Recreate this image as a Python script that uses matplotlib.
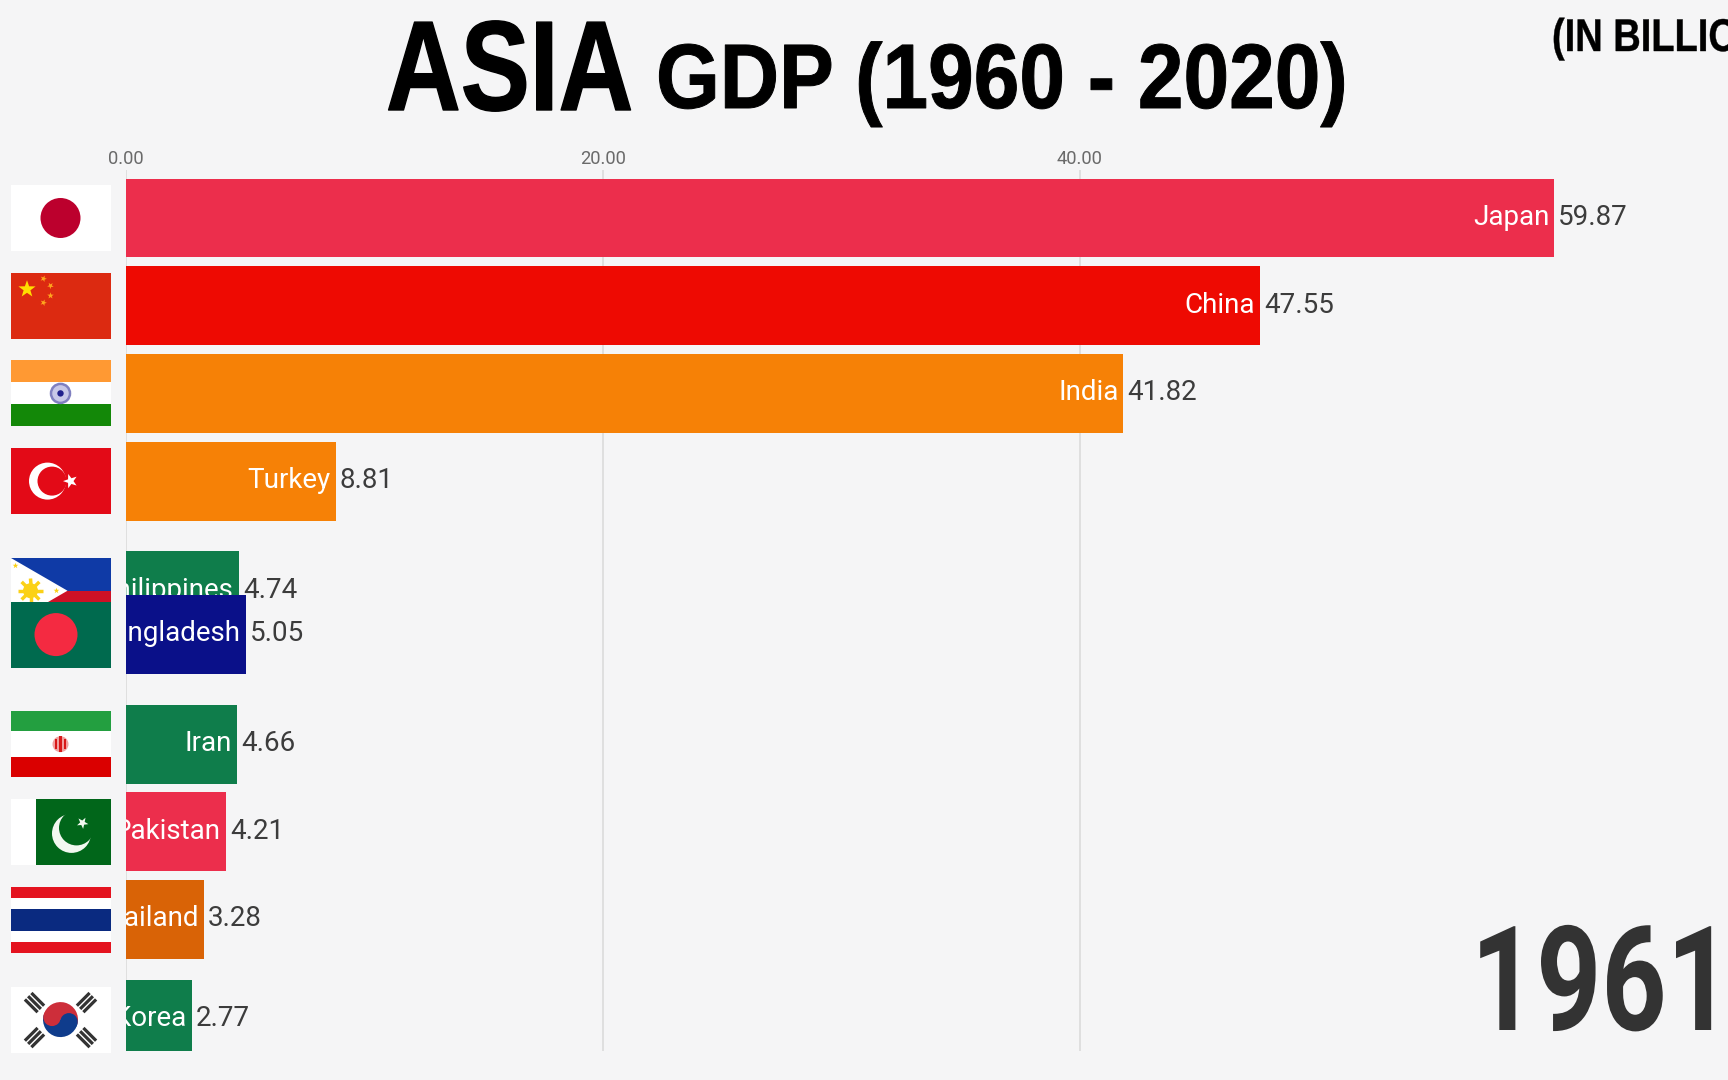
import matplotlib
matplotlib.use("Agg")
import matplotlib.pyplot as plt
from matplotlib.patches import Circle, Rectangle, Polygon, Wedge
from matplotlib.patheffects import AbstractPathEffect
from matplotlib.transforms import Affine2D
import numpy as np

# ---------- data ----------
countries = ["Japan", "China", "India", "Turkey", "Philippines", "Bangladesh",
             "Iran", "Pakistan", "Thailand", "South Korea"]
gdp = [59.87, 47.55, 41.82, 8.81, 4.74, 5.05, 4.66, 4.21, 3.28, 2.77]
# animated rank of each bar in this frame (the Philippines/Bangladesh swap is mid-way)
ranks = [0, 1, 2, 3, 4.25, 4.75, 6, 7, 8, 9.14]
bar_colors = ["#EC2E4C", "#EE0A02", "#F68106", "#F68106", "#0F7D4B", "#0A1089",
              "#0F7D4B", "#EC2E4C", "#D96306", "#0F7D4B"]
tick_values = [0, 20, 40]
year = "1961"

W, H = 1728, 1080
BG = "#F5F5F6"
FONT = ["Roboto", "DejaVu Sans"]
TITLE_FONT = ["Liberation Sans", "DejaVu Sans"]

fig = plt.figure(figsize=(W / 100, H / 100), dpi=100, facecolor=BG)


def fx(px):
    return px / W


def fy(px):
    return 1 - px / H


class Squeeze(AbstractPathEffect):
    """Condense (and optionally embolden) a text about a pixel anchor; it stays real text."""

    def __init__(self, sx, x0, dx=0, stroke=0, color="#000000"):
        super().__init__()
        self.sx, self.x0, self.dx, self.stroke, self.color = sx, x0, dx, stroke, color

    def draw_path(self, renderer, gc, tpath, affine, rgbFace=None):
        t = affine + Affine2D().translate(-self.x0, 0).scale(self.sx, 1).translate(self.x0 + self.dx, 0)
        gc0 = renderer.new_gc()
        gc0.copy_properties(gc)
        if self.stroke:
            gc0.set_foreground(self.color)
            gc0.set_linewidth(self.stroke)
        renderer.draw_path(gc0, tpath, t, rgbFace)
        gc0.restore()


# ---------- main axes ----------
top, bottom, left = 170, 1051, 125.5
ax = fig.add_axes([fx(left), fy(bottom), fx(W - left), (bottom - top) / H])
ax.set_facecolor("none")
ax.set_xlim(0, (W - left) / 23.86)
ax.set_ylim((bottom - 218) / 87.7, (top - 218) / 87.7)
for s in ax.spines.values():
    s.set_visible(False)
ax.set_yticks([])
ax.xaxis.tick_top()
ax.set_xticks(tick_values)
ax.set_xticklabels([f"{v:.2f}" for v in tick_values], fontsize=13.2, color="#6A6A6A", family=FONT)
ax.tick_params(axis="x", length=0, pad=1.5)
ax.grid(axis="x", color="#D9D9D9", lw=1.1, zorder=0)
ax.set_axisbelow(True)

for i, (name, val, r, c) in enumerate(zip(countries, gdp, ranks, bar_colors)):
    z = 3 + i
    bar = ax.barh(r, val, height=0.9, color=c, zorder=z)[0]
    t = ax.annotate(name, (val, r), xytext=(-3.5, 0.5), textcoords="offset points",
                    ha="right", va="center", color="white", fontsize=20,
                    family=FONT, zorder=z + 0.1)
    t.set_clip_path(bar)
    t.set_clip_on(True)
    ax.annotate(f"{val:.2f}", (val, r), xytext=(3, 0.5), textcoords="offset points",
                ha="left", va="center", color="#3C3C3C", fontsize=20,
                family=FONT, zorder=z + 0.1)


# ---------- flags (drawn in a 100 x 66 local box) ----------
def star(a, x, y, r, color, rot=0, n=5, inner=0.4):
    ang = np.linspace(0, 2 * np.pi, 2 * n, endpoint=False) - np.pi / 2 + np.radians(rot)
    rad = np.where(np.arange(2 * n) % 2 == 0, r, r * inner)
    a.add_patch(Polygon(np.c_[x + rad * np.cos(ang), y + rad * np.sin(ang)], fc=color, ec="none"))


def rect(a, x, y, w, h, c):
    a.add_patch(Rectangle((x, y), w, h, fc=c, ec="none"))


def f_japan(a):
    rect(a, 0, 0, 100, 66, "#FFFFFF")
    a.add_patch(Circle((50, 33), 20, fc="#BC002D"))


def f_china(a):
    rect(a, 0, 0, 100, 66, "#DC2A11")
    star(a, 16.5, 16.5, 9, "#FFDE00")
    for x, y, rot in [(33, 6, 20), (40, 13, 40), (40, 23, 0), (33, 30, 20)]:
        star(a, x, y, 3.4, "#FFA51E", rot)


def f_india(a):
    rect(a, 0, 0, 100, 22, "#FF9933")
    rect(a, 0, 22, 100, 22, "#FFFFFF")
    rect(a, 0, 44, 100, 22, "#138808")
    a.add_patch(Circle((50, 33), 9.5, fc="#C8C8E8", ec="#8080C0", lw=1.8))
    a.add_patch(Circle((50, 33), 3.2, fc="#20208C"))


def f_turkey(a):
    rect(a, 0, 0, 100, 66, "#E30A17")
    a.add_patch(Circle((37, 33), 18.5, fc="#FFFFFF"))
    a.add_patch(Circle((41.5, 33), 14.5, fc="#E30A17"))
    star(a, 60, 33, 7.5, "#FFFFFF", rot=-90)


def f_philippines(a):
    rect(a, 0, 0, 100, 33, "#0F3AA6")
    rect(a, 0, 33, 100, 33, "#CE1126")
    a.add_patch(Polygon([(0, 0), (57, 33), (0, 66)], fc="#FFFFFF", ec="none"))
    for ang in np.arange(0, 360, 45):
        a.plot([20, 20 + 12.5 * np.cos(np.radians(ang))], [33, 33 + 12.5 * np.sin(np.radians(ang))],
               color="#FBD116", lw=2.5, solid_capstyle="butt")
    a.add_patch(Circle((20, 33), 7.5, fc="#FBD116"))
    star(a, 5, 8, 3, "#FBD116")
    star(a, 46, 33, 3, "#FBD116")
    star(a, 5, 58, 3, "#FBD116")


def f_bangladesh(a):
    rect(a, 0, 0, 100, 66, "#006A4E")
    a.add_patch(Circle((45.5, 33), 21.5, fc="#F42A41"))


def f_iran(a):
    rect(a, 0, 0, 100, 20, "#239F40")
    rect(a, 0, 20, 100, 26, "#FFFFFF")
    rect(a, 0, 46, 100, 20, "#DA0000")
    a.add_patch(Circle((50, 33), 8, fc="#F0A0A0", ec="none"))
    a.add_patch(Rectangle((48.8, 25), 2.4, 16, fc="#D81818", ec="none"))
    a.add_patch(Rectangle((44.5, 28), 1.6, 10, fc="#D81818", ec="none"))
    a.add_patch(Rectangle((53.9, 28), 1.6, 10, fc="#D81818", ec="none"))


def f_pakistan(a):
    rect(a, 0, 0, 100, 66, "#FFFFFF")
    rect(a, 25, 0, 75, 66, "#01661A")
    a.add_patch(Circle((61, 34.5), 19.5, fc="#F2F8F0"))
    a.add_patch(Circle((66, 29), 17.5, fc="#01661A"))
    star(a, 72, 24, 6, "#F2F8F0", rot=30)


def f_thailand(a):
    rect(a, 0, 0, 100, 66, "#FFFFFF")
    rect(a, 0, 0, 100, 11, "#E4131F")
    rect(a, 0, 22, 100, 22, "#0A2A80")
    rect(a, 0, 55, 100, 11, "#E4131F")


def f_korea(a):
    rect(a, 0, 0, 100, 66, "#FFFFFF")
    cx, cy, r = 50, 33, 17.5
    # local y axis points down, so angles 195..375 are the upper half on screen
    a.add_patch(Wedge((cx, cy), r, 195, 15, fc="#CD2E3A", ec="none"))
    a.add_patch(Wedge((cx, cy), r, 15, 195, fc="#0F3C8C", ec="none"))
    dx, dy = r / 2 * np.cos(np.radians(15)), r / 2 * np.sin(np.radians(15))
    a.add_patch(Circle((cx - dx, cy - dy), r / 2, fc="#CD2E3A", ec="none"))
    a.add_patch(Circle((cx + dx, cy + dy), r / 2, fc="#0F3C8C", ec="none"))
    for tx, ty, ang in [(24, 16, 45), (76, 16, -45), (24, 51, -45), (76, 51, 45)]:
        ca, sa = np.cos(np.radians(ang)), np.sin(np.radians(ang))
        for off in (-4.6, 0, 4.6):
            mx, my = tx + off * sa, ty - off * ca
            a.plot([mx - 9 * ca, mx + 9 * ca], [my - 9 * sa, my + 9 * sa],
                   color="#333333", lw=2.3, solid_capstyle="butt")


flag_fns = [f_japan, f_china, f_india, f_turkey, f_philippines, f_bangladesh,
            f_iran, f_pakistan, f_thailand, f_korea]
FW, FH = 100, 66
for r, fn in zip(ranks, flag_fns):
    _, cy_disp = ax.transData.transform((0, r))
    y0 = cy_disp - FH / 2
    fa = fig.add_axes([10.5 / W, y0 / H, FW / W, FH / H])
    fa.set_xlim(0, FW)
    fa.set_ylim(FH, 0)
    fa.axis("off")
    fn(fa)


# ---------- titles ----------
def label(px, py, s, size, sx, ha="left", color="#000000", family=TITLE_FONT, weight="bold",
          dx=0, stroke=0):
    fig.text(fx(px), fy(py), s, fontsize=size, fontweight=weight, color=color,
             family=family, ha=ha, va="baseline",
             path_effects=[Squeeze(sx, px, dx=dx, stroke=stroke, color=color)])


label(386, 110, "ASIA", 92, 0.81, stroke=1.0)
label(656, 108, "GDP (1960 - 2020)", 66, 0.895, stroke=0.7)
label(1552, 51, "(IN BILLIONS)", 33, 0.83, stroke=0.3)
label(1726, 1030, year, 105, 0.78, ha="right", color="#333333", family=FONT, dx=6)

fig.savefig("out.png", dpi=100, facecolor=BG)
